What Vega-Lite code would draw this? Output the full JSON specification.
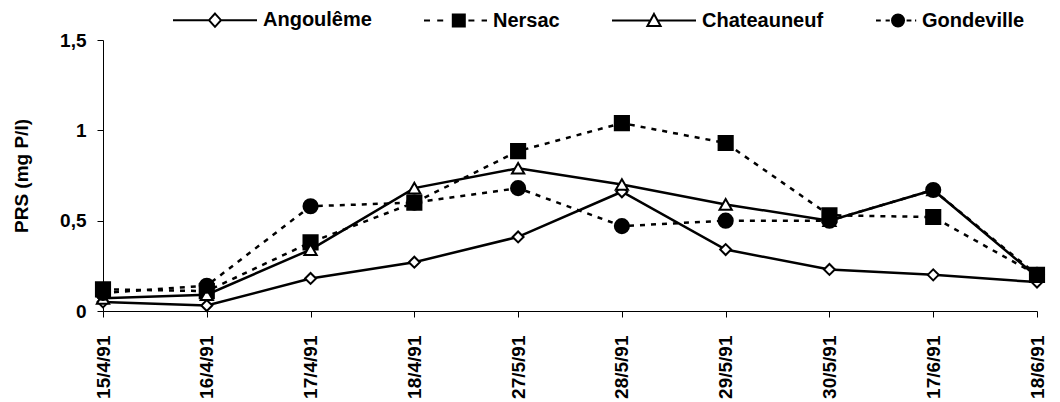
{
  "$schema": "https://vega.github.io/schema/vega-lite/v6.json",
  "description": "PRS (mg P/l) at four stations on the Charente, April-June 1991",
  "width": 934,
  "height": 271,
  "autosize": {"type": "none"},
  "padding": {"left": 103, "top": 40, "right": 23, "bottom": 91},
  "background": "white",
  "config": {
    "font": "Liberation Sans",
    "view": {"stroke": null},
    "axis": {
      "grid": false,
      "domainColor": "black",
      "tickColor": "black",
      "labelColor": "black",
      "titleColor": "black",
      "labelFont": "Liberation Sans",
      "titleFont": "Liberation Sans",
      "labelFontSize": 19,
      "labelFontWeight": "bold",
      "titleFontSize": 19,
      "titleFontWeight": "bold"
    }
  },
  "data": {
    "values": [
      {"date": "15/4/91", "site": "Angoulême", "prs": 0.05},
      {"date": "16/4/91", "site": "Angoulême", "prs": 0.03},
      {"date": "17/4/91", "site": "Angoulême", "prs": 0.18},
      {"date": "18/4/91", "site": "Angoulême", "prs": 0.27},
      {"date": "27/5/91", "site": "Angoulême", "prs": 0.41},
      {"date": "28/5/91", "site": "Angoulême", "prs": 0.66},
      {"date": "29/5/91", "site": "Angoulême", "prs": 0.34},
      {"date": "30/5/91", "site": "Angoulême", "prs": 0.23},
      {"date": "17/6/91", "site": "Angoulême", "prs": 0.2},
      {"date": "18/6/91", "site": "Angoulême", "prs": 0.16},
      {"date": "15/4/91", "site": "Nersac", "prs": 0.12},
      {"date": "16/4/91", "site": "Nersac", "prs": 0.11},
      {"date": "17/4/91", "site": "Nersac", "prs": 0.38},
      {"date": "18/4/91", "site": "Nersac", "prs": 0.6},
      {"date": "27/5/91", "site": "Nersac", "prs": 0.885},
      {"date": "28/5/91", "site": "Nersac", "prs": 1.04},
      {"date": "29/5/91", "site": "Nersac", "prs": 0.93},
      {"date": "30/5/91", "site": "Nersac", "prs": 0.53},
      {"date": "17/6/91", "site": "Nersac", "prs": 0.52},
      {"date": "18/6/91", "site": "Nersac", "prs": 0.2},
      {"date": "15/4/91", "site": "Chateauneuf", "prs": 0.07},
      {"date": "16/4/91", "site": "Chateauneuf", "prs": 0.09},
      {"date": "17/4/91", "site": "Chateauneuf", "prs": 0.34},
      {"date": "18/4/91", "site": "Chateauneuf", "prs": 0.68},
      {"date": "27/5/91", "site": "Chateauneuf", "prs": 0.79},
      {"date": "28/5/91", "site": "Chateauneuf", "prs": 0.7},
      {"date": "29/5/91", "site": "Chateauneuf", "prs": 0.59},
      {"date": "30/5/91", "site": "Chateauneuf", "prs": 0.5},
      {"date": "17/6/91", "site": "Chateauneuf", "prs": 0.67},
      {"date": "18/6/91", "site": "Chateauneuf", "prs": 0.19},
      {"date": "15/4/91", "site": "Gondeville", "prs": 0.1},
      {"date": "16/4/91", "site": "Gondeville", "prs": 0.14},
      {"date": "17/4/91", "site": "Gondeville", "prs": 0.58},
      {"date": "18/4/91", "site": "Gondeville", "prs": 0.6},
      {"date": "27/5/91", "site": "Gondeville", "prs": 0.68},
      {"date": "28/5/91", "site": "Gondeville", "prs": 0.47},
      {"date": "29/5/91", "site": "Gondeville", "prs": 0.5},
      {"date": "30/5/91", "site": "Gondeville", "prs": 0.5},
      {"date": "17/6/91", "site": "Gondeville", "prs": 0.67},
      {"date": "18/6/91", "site": "Gondeville", "prs": 0.2}
    ]
  },
  "encoding": {
    "x": {
      "field": "date",
      "type": "nominal",
      "sort": null,
      "scale": {"type": "point", "padding": 0},
      "axis": {"title": null, "labelAngle": -90, "tickSize": 6, "labelPadding": 18, "domainWidth": 1}
    },
    "y": {
      "field": "prs",
      "type": "quantitative",
      "scale": {"domain": [0, 1.5]},
      "axis": {
        "title": "PRS (mg P/l)",
        "values": [0, 0.5, 1, 1.5],
        "labelExpr": "replace(format(datum.value, '~g'), '.', ',')",
        "tickSize": 6,
        "labelPadding": 11,
        "titlePadding": 28
      }
    }
  },
  "layer": [
    {
      "transform": [{"filter": "datum.site === 'Angoulême' || datum.site === 'Chateauneuf'"}],
      "mark": {"type": "line", "color": "black", "strokeWidth": 2.5},
      "encoding": {"detail": {"field": "site"}}
    },
    {
      "transform": [{"filter": "datum.site === 'Nersac' || datum.site === 'Gondeville'"}],
      "mark": {"type": "line", "color": "black", "strokeWidth": 2.5, "strokeDash": [5, 6]},
      "encoding": {"detail": {"field": "site"}}
    },
    {
      "mark": {"type": "point", "stroke": "black", "strokeWidth": 2, "opacity": 1},
      "encoding": {
        "fill": {
          "field": "site",
          "type": "nominal",
          "title": null,
          "scale": {
            "domain": ["Angoulême", "Nersac", "Chateauneuf", "Gondeville"],
            "range": ["white", "black", "white", "black"]
          },
          "legend": {
            "orient": "none",
            "direction": "horizontal",
            "legendX": 66,
            "legendY": -30,
            "padding": 0,
            "symbolSize": 144,
            "symbolStrokeWidth": 2,
            "symbolStrokeColor": "black",
            "labelOffset": 74,
            "columnPadding": 48,
            "labelFont": "Liberation Sans",
            "labelFontSize": 20,
            "labelFontWeight": "bold",
            "labelColor": "black",
            "labelLimit": 300,
            "encoding": {
              "symbols": {
                "shape": {"value": {"expr": "datum.value === 'Angoulême' ? 'M-1,0L5,0M7,0L13,0M6,-1.1L7,0L6,1.1L5,0Z' : datum.value === 'Nersac' ? 'M-1,0L0,0M1.2,0L2.2,0M3.8,-1L5.8,-1L5.8,1L3.8,1ZM6.4,0L7.4,0M8.6,0L9.5,0' : datum.value === 'Chateauneuf' ? 'M-1,0L5.4,0M6.6,0L13,0M6,-1.1L7.1,0.9L4.9,0.9Z' : 'M-1,0L-0.2,0M0.6,0L1.3,0M1.67,0A1,1 0 1,1 3.67,0A1,1 0 1,1 1.67,0ZM4.1,0L4.9,0M5.5,0L5.7,0'"}},
                "stroke": {"value": "black"},
                "size": {"value": 144}
              },
              "labels": {
                "dx": {"value": {"expr": "datum.value === 'Nersac' ? -21 : datum.value === 'Gondeville' ? -44 : 0"}}
              }
            }
          }
        },
        "shape": {
          "condition": [
            {"test": "datum.site === 'Angoulême'", "value": "diamond"},
            {"test": "datum.site === 'Nersac'", "value": "square"},
            {"test": "datum.site === 'Chateauneuf'", "value": "triangle-up"}
          ],
          "value": "circle"
        },
        "size": {
          "condition": [
            {"test": "datum.site === 'Angoulême'", "value": 120},
            {"test": "datum.site === 'Chateauneuf'", "value": 150}
          ],
          "value": 200
        }
      }
    }
  ]
}
